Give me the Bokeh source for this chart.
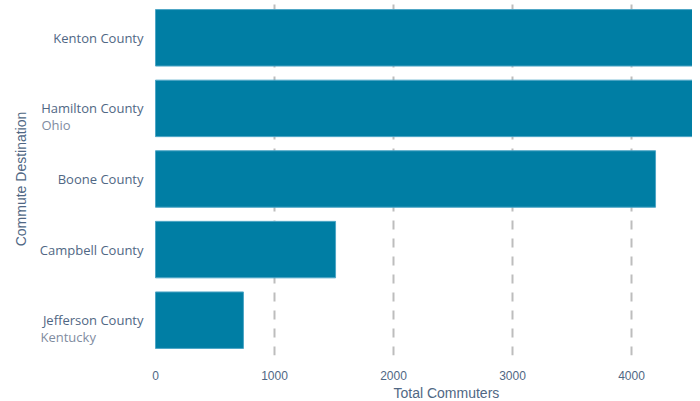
import math
from bokeh.plotting import figure
from bokeh.models import Range1d, FixedTicker, ColumnDataSource, Title
from bokeh.core.properties import value
from bokeh.embed import file_html
from bokeh.resources import INLINE

# Data (bottom to top)
destinations = ["Jefferson County", "Campbell County", "Boone County", "Hamilton County", "Kenton County"]
sublabels = ["Kentucky", "", "", "Ohio", ""]
commuters = [739, 1513, 4202, 5100, 5400]
x_ticks = [0, 1000, 2000, 3000, 4000]
x_title = "Total Commuters"
y_title = "Commute Destination"

positions = list(range(len(destinations)))

# scale: 0.119 px per commuter; frame spans the label area too
PX = 0.119
FRAME_W = 692
ZERO_PX = 155
x_start = -ZERO_PX / PX
x_end = (FRAME_W - ZERO_PX) / PX

p = figure(frame_width=FRAME_W, frame_height=353, output_backend="svg", toolbar_location=None,
           x_range=Range1d(x_start, x_end), y_range=Range1d(-0.5, 4.5),
           min_border_left=0, min_border_right=0, min_border_top=2, min_border_bottom=0)
p.outline_line_color = None
p.yaxis.visible = False

src = ColumnDataSource(dict(y=positions, right=commuters))
p.hbar(y="y", left=0, right="right", height=0.8, source=src,
       fill_color="#007ea4", line_color="#4ea6c6", line_width=1)

# x axis
p.xaxis.ticker = FixedTicker(ticks=x_ticks)
p.xaxis.axis_line_color = None
p.xaxis.major_tick_line_color = None
p.xaxis.minor_tick_line_color = None
p.xaxis.major_label_text_font = "Liberation Sans"
p.xaxis.major_label_text_font_size = "12px"
p.xaxis.major_label_text_color = "#506784"
p.xaxis.major_label_standoff = 9

t = Title(text=x_title, align="left", offset=393, text_font="Liberation Sans",
          text_font_size="14px", text_font_style="normal", text_color="#506784", standoff=0)
p.add_layout(t, "below")

# grid
p.ygrid.grid_line_color = None
p.xgrid.ticker = FixedTicker(ticks=x_ticks[1:])
p.xgrid.grid_line_color = "#bdbdbd"
p.xgrid.grid_line_width = 2
p.xgrid.grid_line_dash = "9 9"

# category labels (inside the extended frame, left of zero)
label_right = -12 / PX
p.text(x=[label_right] * len(destinations), y=positions, text=destinations,
       text_align="right", text_baseline="middle", text_font=value("Open Sans"),
       text_font_size="13px", text_color="#506784")

sub_pos = [pos for pos, s in zip(positions, sublabels) if s]
sub_txt = [s for s in sublabels if s]
first_w = {"Hamilton County": 102, "Jefferson County": 103}
sub_x = [label_right - first_w[destinations[pos]] / PX for pos in sub_pos]
p.text(x=sub_x, y=sub_pos, text=sub_txt, y_offset=17,
       text_align="left", text_baseline="middle", text_font=value("Open Sans"),
       text_font_size="13px", text_color="#7f8c9f")

# y axis title
p.text(x=[-135 / PX], y=[sum(positions) / len(positions)], text=[y_title], angle=math.pi / 2,
       text_align="center", text_baseline="middle", text_font=value("Liberation Sans"),
       text_font_size="14px", text_color="#506784")

open("out.html", "w").write(file_html(p, INLINE))
